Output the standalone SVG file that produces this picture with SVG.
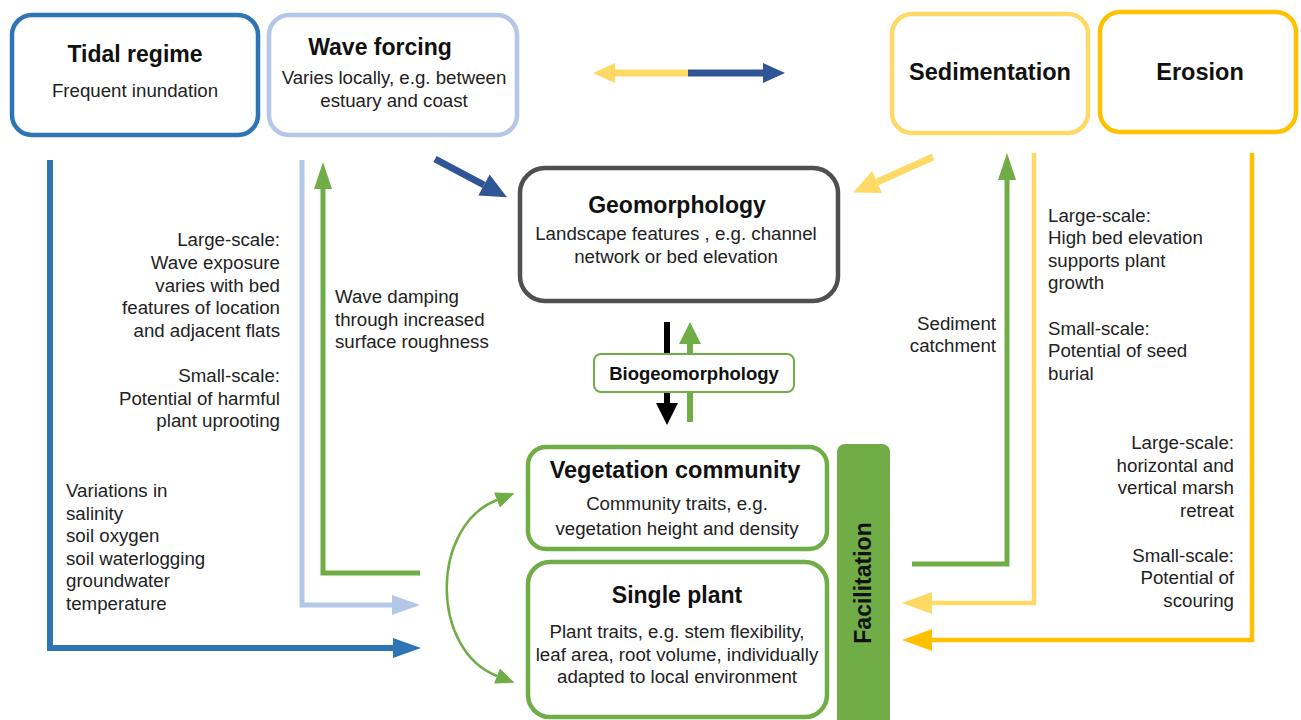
<svg xmlns="http://www.w3.org/2000/svg" width="1301" height="720" viewBox="0 0 1301 720">
<style>
text{font-family:"Liberation Sans",Arial,sans-serif;fill:#222}
.t{font-size:23px;font-weight:bold;text-anchor:middle;fill:#111}
.b{font-size:18.7px;text-anchor:middle}
.l{font-size:18.7px}
.r{font-size:18.7px;text-anchor:end}
.box{fill:#fff;stroke-width:4.5}
.ln{fill:none}
</style>
<defs>
<marker id="hTidal" markerUnits="userSpaceOnUse" orient="auto" refX="0" refY="0" overflow="visible" markerWidth="30" markerHeight="24"><path d="M0,-10 L28,0 L0,10 z" fill="#2E75B6"/></marker>
<marker id="hWave" markerUnits="userSpaceOnUse" orient="auto" refX="0" refY="0" overflow="visible" markerWidth="30" markerHeight="24"><path d="M0,-10 L28,0 L0,10 z" fill="#B4C7E7"/></marker>
<marker id="hGreen" markerUnits="userSpaceOnUse" orient="auto" refX="0" refY="0" overflow="visible" markerWidth="30" markerHeight="24"><path d="M0,-9 L27,0 L0,9 z" fill="#70AD47"/></marker>
<marker id="hSed" markerUnits="userSpaceOnUse" orient="auto" refX="0" refY="0" overflow="visible" markerWidth="30" markerHeight="24"><path d="M0,-11 L30,0 L0,11 z" fill="#FFD966"/></marker>
<marker id="hEro" markerUnits="userSpaceOnUse" orient="auto" refX="0" refY="0" overflow="visible" markerWidth="30" markerHeight="24"><path d="M0,-11 L30,0 L0,11 z" fill="#FFC000"/></marker>
<marker id="hDark" markerUnits="userSpaceOnUse" orient="auto" refX="0" refY="0" overflow="visible" markerWidth="30" markerHeight="30"><path d="M0,-12 L26,0 L0,12 z" fill="#2F5597"/></marker>
<marker id="hSedD" markerUnits="userSpaceOnUse" orient="auto" refX="0" refY="0" overflow="visible" markerWidth="30" markerHeight="30"><path d="M0,-12 L26,0 L0,12 z" fill="#FFD966"/></marker>
<marker id="hTopY" markerUnits="userSpaceOnUse" orient="auto" refX="0" refY="0" overflow="visible" markerWidth="30" markerHeight="30"><path d="M0,-10 L22,0 L0,10 z" fill="#FFD966"/></marker>
<marker id="hTopB" markerUnits="userSpaceOnUse" orient="auto" refX="0" refY="0" overflow="visible" markerWidth="30" markerHeight="30"><path d="M0,-10 L22,0 L0,10 z" fill="#2F5597"/></marker>
<marker id="hBlack" markerUnits="userSpaceOnUse" orient="auto" refX="0" refY="0" overflow="visible" markerWidth="30" markerHeight="30"><path d="M0,-11 L22,0 L0,11 z" fill="#000"/></marker>
<marker id="hBio" markerUnits="userSpaceOnUse" orient="auto" refX="0" refY="0" overflow="visible" markerWidth="30" markerHeight="30"><path d="M0,-11 L22,0 L0,11 z" fill="#70AD47"/></marker>
<marker id="hCurve" markerUnits="userSpaceOnUse" orient="auto-start-reverse" refX="0" refY="0" overflow="visible" markerWidth="30" markerHeight="30"><path d="M0,-8 L19,0 L0,8 z" fill="#70AD47"/></marker>
</defs>

<g id="connectors">
<path class="ln" d="M50,160 V648 H393" stroke="#2E75B6" stroke-width="6" marker-end="url(#hTidal)"/>
<path class="ln" d="M302,160 V605 H392" stroke="#B4C7E7" stroke-width="5" marker-end="url(#hWave)"/>
<path class="ln" d="M420,573 H323 V189" stroke="#70AD47" stroke-width="5" marker-end="url(#hGreen)"/>
<path class="ln" d="M912,564 H1007 V180" stroke="#70AD47" stroke-width="5" marker-end="url(#hGreen)"/>
<path class="ln" d="M1034,153 V603 H932" stroke="#FFD966" stroke-width="4.5" marker-end="url(#hSed)"/>
<path class="ln" d="M1252,153 V640 H932" stroke="#FFC000" stroke-width="4.5" marker-end="url(#hEro)"/>
<path class="ln" d="M435,159 L484,185" stroke="#2F5597" stroke-width="7" marker-end="url(#hDark)"/>
<path class="ln" d="M933,157 L877,182" stroke="#FFD966" stroke-width="7" marker-end="url(#hSedD)"/>
<path class="ln" d="M689,73 H615" stroke="#FFD966" stroke-width="7" marker-end="url(#hTopY)"/>
<path class="ln" d="M688,73 H763" stroke="#2F5597" stroke-width="7" marker-end="url(#hTopB)"/>
<path class="ln" d="M667,322 V403" stroke="#000" stroke-width="6" marker-end="url(#hBlack)"/>
<path class="ln" d="M690,422 V344" stroke="#70AD47" stroke-width="6" marker-end="url(#hBio)"/>
<path class="ln" d="M497,500 C430,526 430,650 497,676" stroke="#70AD47" stroke-width="2.5" marker-start="url(#hCurve)" marker-end="url(#hCurve)"/>
</g>

<g id="tidal">
<rect class="box" x="12" y="15" width="246" height="120" rx="20" stroke="#2E75B6"/>
<text class="t" x="135" y="62">Tidal regime</text>
<text class="b" x="135" y="97">Frequent inundation</text>
</g>
<g id="wave">
<rect class="box" x="269" y="15" width="248" height="120" rx="20" stroke="#B4C7E7"/>
<text class="t" x="380" y="55">Wave forcing</text>
<text class="b" x="394" y="84">Varies locally, e.g. between</text>
<text class="b" x="394" y="107">estuary and coast</text>
</g>
<g id="sedimentation">
<rect class="box" x="892" y="14" width="196" height="119" rx="20" stroke="#FFD966"/>
<text class="t" x="990" y="80" style="font-size:23.5px">Sedimentation</text>
</g>
<g id="erosion">
<rect class="box" x="1100" y="12" width="196" height="120" rx="20" stroke="#FFC000" stroke-width="5"/>
<text class="t" x="1200" y="80" style="font-size:23.5px">Erosion</text>
</g>
<g id="geomorphology">
<rect class="box" x="520" y="168" width="318" height="133" rx="25" stroke="#505050"/>
<text class="t" x="677" y="213">Geomorphology</text>
<text class="b" x="676" y="240">Landscape features , e.g. channel</text>
<text class="b" x="676" y="263">network or bed elevation</text>
</g>
<g id="biogeomorphology">
<rect x="594" y="354" width="200" height="38" rx="7" fill="#fff" stroke="#70AD47" stroke-width="2"/>
<text class="t" x="694" y="380" style="font-size:18.5px">Biogeomorphology</text>
</g>
<g id="vegetation">
<rect class="box" x="528" y="447" width="299" height="102" rx="18" stroke="#70AD47" stroke-width="4"/>
<text class="t" x="675" y="478" style="font-size:23.5px">Vegetation community</text>
<text class="b" x="677" y="510">Community traits, e.g.</text>
<text class="b" x="677" y="535">vegetation height and density</text>
</g>
<g id="singleplant">
<rect class="box" x="528" y="562" width="299" height="155" rx="22" stroke="#70AD47" stroke-width="4"/>
<text class="t" x="677" y="603">Single plant</text>
<text class="b" x="677" y="638">Plant traits, e.g. stem flexibility,</text>
<text class="b" x="677" y="661">leaf area, root volume, individually</text>
<text class="b" x="677" y="683">adapted to local environment</text>
</g>
<g id="facilitation">
<rect x="837" y="444" width="53" height="290" rx="8" fill="#70AD47"/>
<text class="t" x="0" y="0" dominant-baseline="central" transform="translate(863,583) rotate(-90)">Facilitation</text>
</g>

<g id="labels">
<text class="r" x="280" y="246">Large-scale:</text>
<text class="r" x="280" y="269">Wave exposure</text>
<text class="r" x="280" y="292">varies with bed</text>
<text class="r" x="280" y="314">features of location</text>
<text class="r" x="280" y="337">and adjacent flats</text>
<text class="r" x="280" y="382">Small-scale:</text>
<text class="r" x="280" y="405">Potential of harmful</text>
<text class="r" x="280" y="427">plant uprooting</text>

<text class="l" x="66" y="497">Variations in</text>
<text class="l" x="66" y="520">salinity</text>
<text class="l" x="66" y="542">soil oxygen</text>
<text class="l" x="66" y="565">soil waterlogging</text>
<text class="l" x="66" y="587">groundwater</text>
<text class="l" x="66" y="610">temperature</text>

<text class="l" x="335" y="303">Wave damping</text>
<text class="l" x="335" y="326">through increased</text>
<text class="l" x="335" y="348">surface roughness</text>

<text class="r" x="996" y="330">Sediment</text>
<text class="r" x="996" y="352">catchment</text>

<text class="l" x="1048" y="222">Large-scale:</text>
<text class="l" x="1048" y="244">High bed elevation</text>
<text class="l" x="1048" y="267">supports plant</text>
<text class="l" x="1048" y="289">growth</text>
<text class="l" x="1048" y="335">Small-scale:</text>
<text class="l" x="1048" y="357">Potential of seed</text>
<text class="l" x="1048" y="380">burial</text>

<text class="r" x="1234" y="449">Large-scale:</text>
<text class="r" x="1234" y="472">horizontal and</text>
<text class="r" x="1234" y="494">vertical marsh</text>
<text class="r" x="1234" y="517">retreat</text>
<text class="r" x="1234" y="562">Small-scale:</text>
<text class="r" x="1234" y="584">Potential of</text>
<text class="r" x="1234" y="607">scouring</text>
</g>
</svg>
